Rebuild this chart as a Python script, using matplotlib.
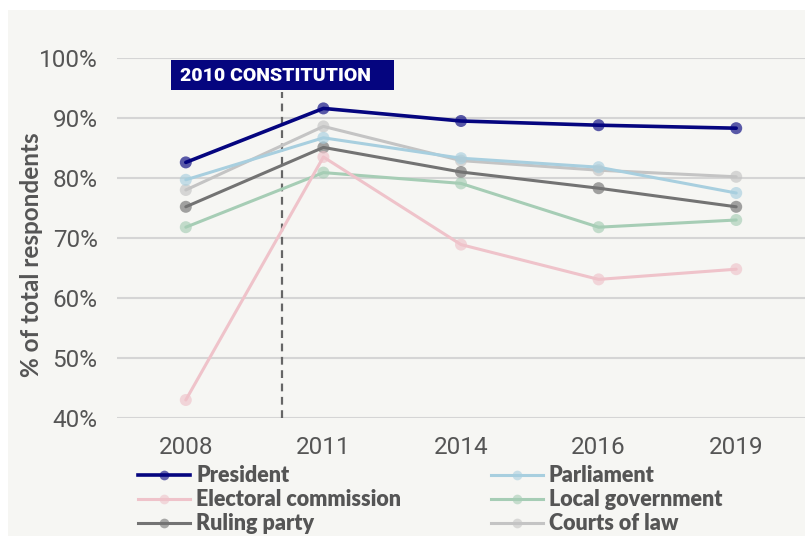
import matplotlib.pyplot as plt
from matplotlib.colors import to_rgba
from matplotlib.patches import Rectangle
from matplotlib.lines import Line2D
from matplotlib.ticker import PercentFormatter

years = ["2008", "2011", "2014", "2016", "2019"]

president = [82.6, 91.6, 89.5, 88.8, 88.3]
parliament = [79.7, 86.7, 83.3, 81.8, 77.5]
electoral_commission = [43.0, 83.5, 68.9, 63.1, 64.8]
local_government = [71.8, 80.9, 79.1, 71.8, 73.0]
ruling_party = [75.2, 85.1, 81.0, 78.3, 75.2]
courts_of_law = [78.0, 88.6, 82.9, 81.3, 80.2]

yticks = [40, 50, 60, 70, 80, 90, 100]
constitution_label = "2010 CONSTITUTION"

series = [
    ("Courts of law", courts_of_law, "#c4c4c4"),
    ("Ruling party", ruling_party, "#737373"),
    ("Local government", local_government, "#a6cdb5"),
    ("Electoral commission", electoral_commission, "#efc3ca"),
    ("Parliament", parliament, "#a8cfdf"),
    ("President", president, "#05057f"),
]
legend_order = ["President", "Electoral commission", "Ruling party",
                "Parliament", "Local government", "Courts of law"]

panel = "#f6f6f3"
text_grey = "#555555"

fig = plt.figure(figsize=(8.05, 5.36), dpi=100, facecolor="white")
fig.patches.append(Rectangle((8 / 805, 0), 1, 1 - 10 / 536, transform=fig.transFigure,
                             facecolor=panel, edgecolor="none", zorder=-5))

ax = fig.add_axes([117 / 805, 1 - 418 / 536, 1 - 117 / 805, (418 - 58) / 536])
ax.set_zorder(2)
ax.set_facecolor(panel)

x = list(range(len(years)))
handles = {}
for name, vals, color in series:
    lw = 2.6 if name == "President" else 2.2
    ax.plot(x, vals, color=color, lw=lw, zorder=3, solid_capstyle="round")
    ax.scatter(x, vals, s=75, color=color, alpha=0.65, edgecolors="none", zorder=4)
    handles[name] = Line2D([], [], color=color, lw=lw, marker="o", markersize=7,
                           markerfacecolor=to_rgba(color, 0.6), markeredgecolor="none")

# dashed marker for the constitution year, sitting between 2008 and 2011
cx = 0.7
ax.plot([cx, cx], [40, 94.4], ls=(0, (3.5, 2.5)), color="#666666", lw=1.6, zorder=2)
ax.add_patch(Rectangle((-0.105, 94.6), 1.62, 5.1, facecolor="#05057f", edgecolor="none",
                       zorder=5, clip_on=False))
ax.text(-0.045, 97.0, constitution_label, color="white", fontsize=14, fontweight="heavy",
        family="Roboto", ha="left", va="center", zorder=6)

ax.set_xlim(-0.5, 4.5)
ax.set_ylim(40, 100)
ax.set_xticks(x)
ax.set_xticklabels(years)
ax.set_yticks(yticks)
ax.yaxis.set_major_formatter(PercentFormatter(decimals=0))
ax.grid(axis="y", color="#d5d5d5", lw=1.5, zorder=1)
ax.set_axisbelow(True)
for s in ax.spines.values():
    s.set_visible(False)
ax.tick_params(length=0, labelsize=17.5, labelcolor=text_grey)
ax.tick_params(axis="x", pad=13)
ax.tick_params(axis="y", pad=14)
for lab in ax.get_xticklabels() + ax.get_yticklabels():
    lab.set_family("Roboto")

ax.set_ylabel("% of total respondents", fontsize=17.5, fontweight="bold", color=text_grey,
              family="Lato")
ax.yaxis.set_label_coords((43 - 117) / 688, 1 - (255 - 58) / 360)

leg = fig.legend([handles[n] for n in legend_order], legend_order, ncol=2,
                 loc="upper left", bbox_to_anchor=(119 / 805, 1 - 446 / 536),
                 frameon=False, handlelength=2.4, handletextpad=0.3,
                 columnspacing=4.15, labelspacing=0.14,
                 prop={"family": "Lato", "weight": "heavy", "size": 15.5})
for t in leg.get_texts():
    t.set_color(text_grey)

fig.savefig("out.png", dpi=100, facecolor="white")
